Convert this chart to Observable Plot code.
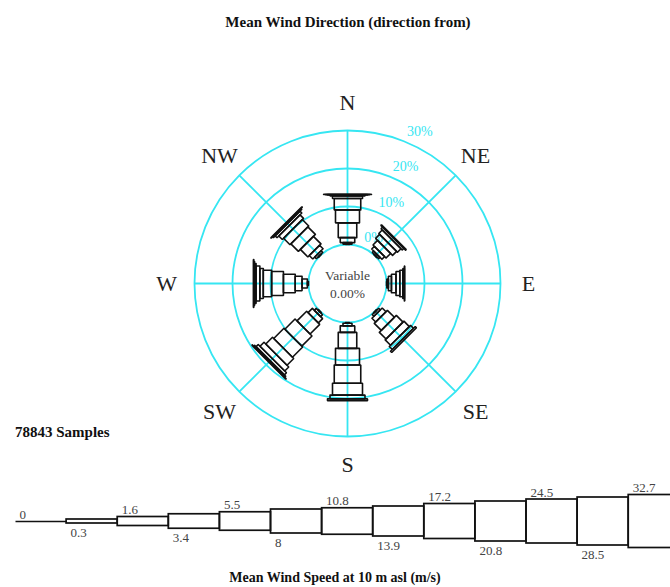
<!DOCTYPE html>
<html><head><meta charset="utf-8">
<script src="https://cdn.jsdelivr.net/npm/d3@7"></script>
<script src="https://cdn.jsdelivr.net/npm/@observablehq/plot@0.6"></script>
<style>
html,body{margin:0;padding:0;background:#fff;overflow:hidden;}
#wrap{position:relative;width:670px;height:587px;font-family:"Liberation Serif","Times New Roman",serif;}
.t{position:absolute;font-weight:bold;color:#111;white-space:nowrap;line-height:18px;}
.p{position:absolute;left:0;}
</style></head><body>
<div id="wrap">
  <div class="p" id="rose" style="top:0"></div>
  <div class="p" id="legend" style="top:470px"></div>
  <div class="t" id="title" style="left:0;width:696px;text-align:center;top:13px;font-size:15px"></div>
  <div class="t" id="samples" style="left:15px;top:423px;font-size:15px"></div>
  <div class="t" id="caption" style="left:0;width:670px;text-align:center;top:569px;font-size:14px"></div>
</div>
<script>
// ---------- data ----------
const titleText = "Mean Wind Direction (direction from)";
const captionText = "Mean Wind Speed at 10 m asl (m/s)";
const sampleCount = 78843;
const calmPct = 0.00;
const directions = ["N", "NE", "E", "SE", "S", "SW", "W", "NW"];
const ringPct = [0, 10, 20, 30];
const ringLabels = ["0%", "10%", "20%", "30%"];
const speedBounds = ["0", "0.3", "1.6", "3.4", "5.5", "8", "10.8", "13.9", "17.2", "20.8", "24.5", "28.5", "32.7"];
// frequency (%) per speed class: 0.3-1.6, 1.6-3.4, 3.4-5.5, 5.5-8, 8-10.8, 10.8-13.9, 13.9-17.2, 17.2-20.8, 20.8-24.5, 24.5-28.5, 28.5-32.7, >32.7
const freqN  = [0.10, 0.40, 1.30, 3.90, 3.40, 3.00, 0.70, 0.25, 0.08, 0.04, 0.02, 0];
const freqNE = [0.15, 0.50, 1.00, 1.70, 1.50, 1.30, 0.60, 0.25, 0, 0, 0, 0];
const freqE  = [0.10, 0.40, 0.80, 1.20, 1.00, 0.80, 0.40, 0.10, 0, 0, 0, 0];
const freqSE = [0.15, 0.60, 1.40, 2.60, 2.50, 2.00, 1.10, 0.45, 0, 0, 0, 0];
const freqS  = [0.20, 0.70, 1.70, 4.20, 4.40, 4.80, 3.10, 1.00, 0.50, 0, 0, 0];
const freqSW = [0.20, 0.70, 1.60, 3.60, 3.80, 3.80, 2.50, 1.50, 0.80, 0.35, 0.15, 0];
const freqW  = [0.30, 1.40, 1.80, 3.10, 3.10, 2.20, 0.90, 1.00, 0.40, 0.20, 0.10, 0];
const freqNW = [0.15, 0.60, 1.30, 2.80, 2.80, 2.40, 1.30, 0.70, 0.30, 0.15, 0, 0];
const dirFreqs = [freqN, freqNE, freqE, freqSE, freqS, freqSW, freqW, freqNW];

// ---------- style / geometry ----------
const cyan = "#36e6f2";
const ink = "#111";
const classWidthPx = [4, 9, 14.5, 18.5, 24, 26.5, 30, 35, 40, 44, 48, 53];
const rScale = d3.scaleLinear().domain([0, 30]).range([39, 153]);
const labelR = 181;
const serif = "Liberation Serif";

document.getElementById("title").textContent = titleText;
document.getElementById("caption").textContent = captionText;
document.getElementById("samples").textContent = `${sampleCount} Samples`;

const polar = (r, i) => { const t = i * Math.PI / 4; return [r * Math.sin(t), r * Math.cos(t)]; };

// bar polygons
const polys = [];
dirFreqs.forEach((fr, i) => {
  const t = i * Math.PI / 4;
  const ux = Math.sin(t), uy = Math.cos(t), vx = Math.cos(t), vy = -Math.sin(t);
  let cum = 0;
  fr.forEach((f, k) => {
    if (f <= 0) return;
    const r0 = rScale(cum), r1 = rScale(cum + f); cum += f;
    const h = classWidthPx[k] / 2;
    [[r0, h], [r1, h], [r1, -h], [r0, -h], [r0, h]].forEach(([r, s]) =>
      polys.push({id: `${i}-${k}`, x: r * ux + s * vx, y: r * uy + s * vy}));
  });
});

const spokes = directions.map((d, i) => {
  const [x1, y1] = polar(rScale(0), i), [x2, y2] = polar(rScale(30), i);
  return {x1, y1, x2, y2};
});
const dirLabels = directions.map((d, i) => { const [x, y] = polar(labelR, i); return {d, x, y}; });
const ringAng = 22 * Math.PI / 180;
const ringText = ringPct.map((p, i) => ({
  t: ringLabels[i], x: (rScale(p) + 6) * Math.sin(ringAng), y: (rScale(p) + 6) * Math.cos(ringAng)
}));

const rose = Plot.plot({
  width: 670, height: 480, margin: 0,
  x: {domain: [-347, 323], axis: null},
  y: {domain: [-197, 283], axis: null},
  r: {type: "identity"},
  style: {background: "transparent", fontFamily: serif},
  marks: [
    Plot.dot(ringPct, {x: () => 0, y: () => 0, r: d => rScale(d), stroke: cyan, strokeWidth: 1.8, fill: "none"}),
    Plot.link(spokes, {x1: "x1", y1: "y1", x2: "x2", y2: "y2", stroke: cyan, strokeWidth: 1.8}),
    Plot.text(ringText, {x: "x", y: "y", text: "t", fill: cyan, fontSize: 14, textAnchor: "start", lineAnchor: "bottom", fontFamily: serif}),
    Plot.line(polys, {x: "x", y: "y", z: "id", stroke: ink, strokeWidth: 1.6, fill: "none", curve: "linear", strokeLinejoin: "miter"}),
    Plot.text(dirLabels, {x: "x", y: "y", text: "d", fontSize: 22, fill: "#222", fontFamily: serif}),
    Plot.text(["Variable", `${calmPct.toFixed(2)}%`], {x: () => 0, y: (d, i) => i === 0 ? 8 : -10, text: d => d, fontSize: 13.5, fill: "#444", fontFamily: serif})
  ]
});
document.getElementById("rose").appendChild(rose);

// legend
const boxes = classWidthPx.map((w, k) => ({x1: k + 1, x2: k + 2, y1: -w / 2, y2: w / 2}));
const hw = b => b === 0 ? 0 : classWidthPx[b - 1] / 2;
const legLabels = speedBounds.map((s, b) => ({s, b, y: b % 2 === 0 ? hw(b) + 3 : -hw(b) - 4, above: b % 2 === 0}));
const step = 51.1;
const legend = Plot.plot({
  width: 670, height: 117, margin: 0,
  x: {domain: [-15 / step, 655 / step], axis: null},
  y: {domain: [-66, 51], axis: null},
  style: {background: "transparent", fontFamily: serif},
  marks: [
    Plot.link([{x1: 0, x2: 1, y: 0}], {x1: "x1", x2: "x2", y1: "y", y2: "y", stroke: ink, strokeWidth: 1.6}),
    Plot.rect(boxes, {x1: "x1", x2: "x2", y1: "y1", y2: "y2", stroke: ink, strokeWidth: 1.7, fill: "none", clip: true}),
    Plot.text(legLabels.filter(d => d.above), {x: "b", y: "y", text: "s", dx: 4, textAnchor: "start", lineAnchor: "bottom", fontSize: 13, fill: "#444", fontFamily: serif}),
    Plot.text(legLabels.filter(d => !d.above), {x: "b", y: "y", text: "s", dx: 4, textAnchor: "start", lineAnchor: "top", fontSize: 13, fill: "#444", fontFamily: serif})
  ]
});
document.getElementById("legend").appendChild(legend);
</script>
</body></html>
